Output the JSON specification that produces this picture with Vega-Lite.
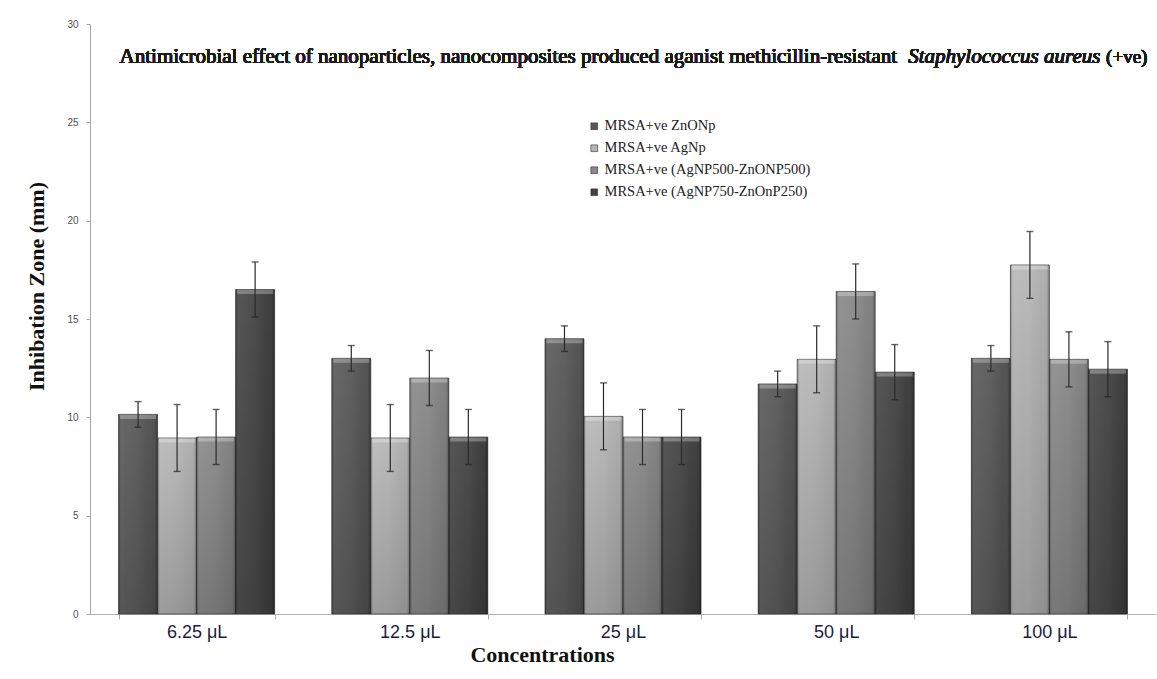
{
  "$schema": "https://vega.github.io/schema/vega-lite/v6.json",
  "width": 1066,
  "height": 590,
  "autosize": {"type": "none"},
  "padding": {"left": 90, "top": 24, "right": 1, "bottom": 65},
  "background": "white",
  "config": {"view": {"stroke": null}, "font": "Liberation Serif"},
  "data": {
    "values": [
      {"conc": "6.25 μL", "series": "MRSA+ve ZnONp", "value": 10.15, "err": 0.65},
      {"conc": "6.25 μL", "series": "MRSA+ve AgNp", "value": 8.95, "err": 1.7},
      {"conc": "6.25 μL", "series": "MRSA+ve (AgNP500-ZnONP500)", "value": 9.0, "err": 1.4},
      {"conc": "6.25 μL", "series": "MRSA+ve (AgNP750-ZnOnP250)", "value": 16.5, "err": 1.4},
      {"conc": "12.5 μL", "series": "MRSA+ve ZnONp", "value": 13.0, "err": 0.65},
      {"conc": "12.5 μL", "series": "MRSA+ve AgNp", "value": 8.95, "err": 1.7},
      {"conc": "12.5 μL", "series": "MRSA+ve (AgNP500-ZnONP500)", "value": 12.0, "err": 1.4},
      {"conc": "12.5 μL", "series": "MRSA+ve (AgNP750-ZnOnP250)", "value": 9.0, "err": 1.4},
      {"conc": "25 μL", "series": "MRSA+ve ZnONp", "value": 14.0, "err": 0.65},
      {"conc": "25 μL", "series": "MRSA+ve AgNp", "value": 10.05, "err": 1.7},
      {"conc": "25 μL", "series": "MRSA+ve (AgNP500-ZnONP500)", "value": 9.0, "err": 1.4},
      {"conc": "25 μL", "series": "MRSA+ve (AgNP750-ZnOnP250)", "value": 9.0, "err": 1.4},
      {"conc": "50 μL", "series": "MRSA+ve ZnONp", "value": 11.7, "err": 0.65},
      {"conc": "50 μL", "series": "MRSA+ve AgNp", "value": 12.95, "err": 1.7},
      {"conc": "50 μL", "series": "MRSA+ve (AgNP500-ZnONP500)", "value": 16.4, "err": 1.4},
      {"conc": "50 μL", "series": "MRSA+ve (AgNP750-ZnOnP250)", "value": 12.3, "err": 1.4},
      {"conc": "100 μL", "series": "MRSA+ve ZnONp", "value": 13.0, "err": 0.65},
      {"conc": "100 μL", "series": "MRSA+ve AgNp", "value": 17.75, "err": 1.7},
      {"conc": "100 μL", "series": "MRSA+ve (AgNP500-ZnONP500)", "value": 12.95, "err": 1.4},
      {"conc": "100 μL", "series": "MRSA+ve (AgNP750-ZnOnP250)", "value": 12.45, "err": 1.4}
    ]
  },
  "encoding": {
    "x": {
      "field": "conc",
      "type": "nominal",
      "sort": ["6.25 μL", "12.5 μL", "25 μL", "50 μL", "100 μL"],
      "scale": {"paddingInner": 0.268, "paddingOuter": 0.134},
      "axis": {
        "labelAngle": 0,
        "labelFont": "Liberation Sans",
        "labelFontSize": 18,
        "labelColor": "#1c1c40",
        "labelBaseline": "top",
        "labelPadding": 4,
        "tickBand": "extent",
        "tickSize": 5,
        "tickColor": "#b0b0b0",
        "domainColor": "#b0b0b0",
        "title": "Concentrations",
        "titleFont": "Liberation Serif",
        "titleFontSize": 22,
        "titleFontWeight": "bold",
        "titleColor": "#111111",
        "titleX": 452,
        "titleY": 47,
        "titleAlign": "center",
        "titleBaseline": "alphabetic"
      }
    },
    "xOffset": {
      "field": "series",
      "sort": ["MRSA+ve ZnONp", "MRSA+ve AgNp", "MRSA+ve (AgNP500-ZnONP500)", "MRSA+ve (AgNP750-ZnOnP250)"],
      "scale": {"paddingInner": 0, "paddingOuter": 0}
    },
    "y": {
      "field": "value",
      "type": "quantitative",
      "scale": {"domain": [0, 30]},
      "axis": {
        "values": [0, 5, 10, 15, 20, 25, 30],
        "grid": false,
        "tickSize": 4,
        "tickColor": "#a8a8a8",
        "domainColor": "#a8a8a8",
        "labelFont": "Liberation Sans",
        "labelFontSize": 10,
        "labelColor": "#505050",
        "labelPadding": 8,
        "title": "Inhibation Zone (mm)",
        "titleFont": "Liberation Serif",
        "titleFontSize": 22,
        "titleFontWeight": "bold",
        "titleColor": "#111111",
        "titleX": -54,
        "titleY": 262,
        "titleAlign": "center",
        "titleBaseline": "middle"
      }
    }
  },
  "layer": [
    {
      "mark": {"type": "bar", "stroke": "#2e2e2e", "strokeWidth": 0.6},
      "encoding": {
        "color": {
          "field": "series",
          "type": "nominal",
          "sort": ["MRSA+ve ZnONp", "MRSA+ve AgNp", "MRSA+ve (AgNP500-ZnONP500)", "MRSA+ve (AgNP750-ZnOnP250)"],
          "scale": {"range": ["#575757", "#b6b6b6", "#878787", "#424242"]},
          "legend": {
            "title": null,
            "orient": "none",
            "legendX": 497,
            "legendY": 95,
            "symbolType": "square",
            "symbolSize": 45,
            "symbolStrokeColor": "#2e2e2e",
            "symbolStrokeWidth": 0.6,
            "labelFont": "Liberation Serif",
            "labelFontSize": 14.5,
            "labelColor": "#222222",
            "labelOffset": 3,
            "labelLimit": 0,
            "rowPadding": 7
          }
        }
      }
    },
    {
      "mark": {
        "type": "bar",
        "fill": {
          "gradient": "linear",
          "x1": 0, "y1": 0, "x2": 1, "y2": 0,
          "stops": [
            {"offset": 0, "color": "rgba(0,0,0,0.28)"},
            {"offset": 0.07, "color": "rgba(255,255,255,0.10)"},
            {"offset": 0.5, "color": "rgba(255,255,255,0.06)"},
            {"offset": 0.92, "color": "rgba(0,0,0,0.04)"},
            {"offset": 1, "color": "rgba(0,0,0,0.30)"}
          ]
        }
      },
      "encoding": {}
    },
    {
      "mark": {
        "type": "bar",
        "fill": {
          "gradient": "linear",
          "x1": 0, "y1": 0, "x2": 0, "y2": 1,
          "stops": [
            {"offset": 0, "color": "rgba(0,0,0,0)"},
            {"offset": 1, "color": "rgba(0,0,0,0.18)"}
          ]
        }
      },
      "encoding": {}
    },
    {
      "mark": {"type": "tick", "thickness": 4, "size": 36, "yOffset": 2.5, "color": "#ffffff", "opacity": 0.28},
      "encoding": {}
    },
    {
      "mark": {
        "type": "errorbar",
        "ticks": {"size": 7, "thickness": 1.4, "color": "#222222"},
        "rule": {"strokeWidth": 1.2, "color": "#2a2a2a"}
      },
      "encoding": {
        "y": {"field": "value", "type": "quantitative", "title": "Inhibation Zone (mm)"},
        "yError": {"field": "err"}
      }
    },
    {
      "mark": {"type": "text", "align": "left", "baseline": "alphabetic", "fontSize": 21, "font": "Liberation Serif", "color": "#1a1a1a", "dx": 1},
      "encoding": {
        "x": {"datum": "6.25 μL", "bandPosition": 0},
        "xOffset": null,
        "y": {"datum": 28},
        "text": {"value": "Antimicrobial  effect of nanoparticles, nanocomposites produced  aganist methicillin-resistant"}
      }
    },
    {
      "mark": {"type": "text", "align": "right", "baseline": "alphabetic", "fontSize": 21, "font": "Liberation Serif", "fontStyle": "italic", "color": "#1a1a1a", "dx": -27},
      "encoding": {
        "x": {"datum": "100 μL", "bandPosition": 1},
        "xOffset": null,
        "y": {"datum": 28},
        "text": {"value": "Staphylococcus aureus"}
      }
    },
    {
      "mark": {"type": "text", "align": "right", "baseline": "alphabetic", "fontSize": 19, "font": "Liberation Serif", "color": "#1a1a1a", "dx": 20},
      "encoding": {
        "x": {"datum": "100 μL", "bandPosition": 1},
        "xOffset": null,
        "y": {"datum": 28},
        "text": {"value": "(+ve)"}
      }
    }
  ]
}
